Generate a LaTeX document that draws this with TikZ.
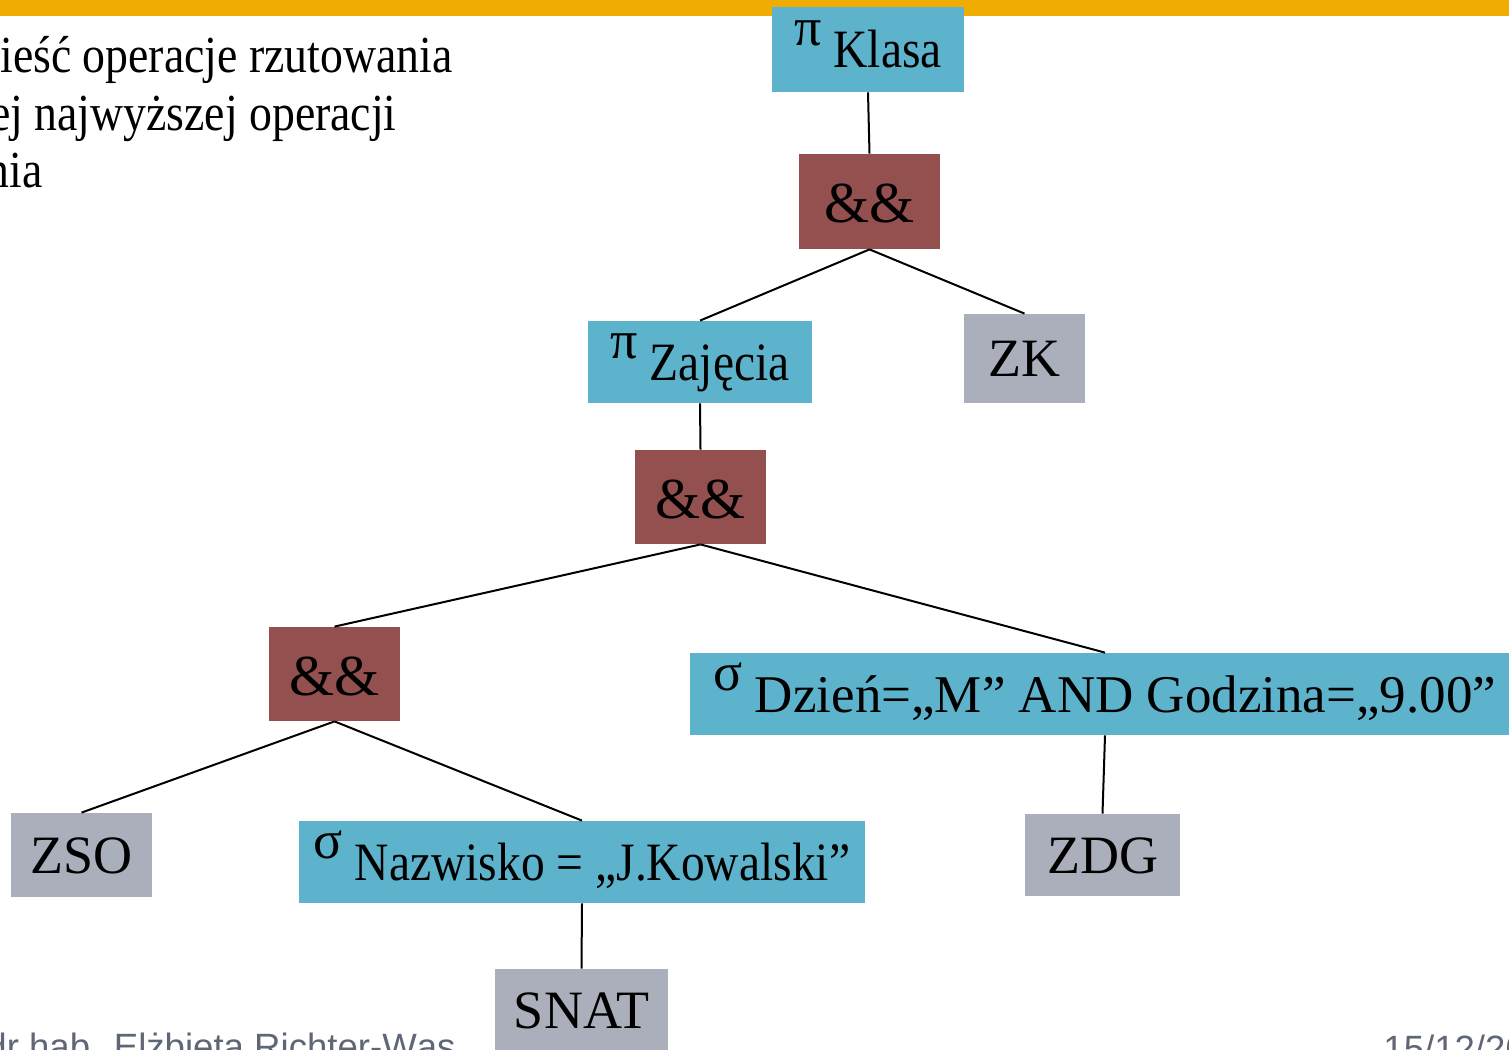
\documentclass[tikz,border=0pt]{standalone}
\usepackage{fontspec}
\setmainfont{Liberation Serif}
\newfontfamily\gar[FakeStretch=0.88]{Liberation Serif}
\newfontfamily\footfont{Liberation Sans}
\definecolor{barorange}{HTML}{F0AC00}
\definecolor{opteal}{HTML}{5EB3CC}
\definecolor{opmaroon}{HTML}{944F4F}
\definecolor{relgray}{HTML}{ABAFBB}
\definecolor{footgray}{HTML}{5F6675}
\newcommand{\grk}[1]{\raisebox{11pt}{\fontsize{27}{27}\selectfont #1}\hspace{6pt}}
\tikzset{
  box/.style={rectangle, inner sep=0pt, text height=18pt, text depth=0pt, align=center},
  projbox/.style={box, fill=opteal},
  joinbox/.style={box, fill=opmaroon, text height=21pt, font=\fontsize{29}{32}\selectfont},
  relbox/.style={box, fill=relgray, font=\fontsize{27}{30}\selectfont},
  edge/.style={draw=black, line width=1pt},
  slidetext/.style={anchor=base east, inner sep=0pt, font=\gar\fontsize{26}{30}\selectfont},
  foottext/.style={inner sep=0pt, text=footgray, font=\footfont\fontsize{18.3}{20}\selectfont}
}
\begin{document}
\begin{tikzpicture}[x=0.5pt, y=-0.5pt]
\clip (0,0) rectangle (1509,1049);
\fill[barorange] (0,0) rectangle (1509,16);

% slide text fragments
\node[slidetext] (t1) at (453,72) {ieść operacje rzutowania};
\node[slidetext] (t2) at (397,130) {ej najwyższej operacji};
\node[slidetext] (t3) at (43,187) {nia};

% footer
\node[foottext, anchor=base east] (f1) at (456,1059) {dr hab. Elżbieta Richter-Wąs};
\node[foottext, anchor=base west] (f2) at (1383,1061) {15/12/20};

% nodes
\node[projbox, minimum width=96pt, minimum height=42.5pt] (klasa) at (868,49.5)
  {\grk{π}{\gar\fontsize{27}{30}\selectfont Klasa}};
\node[joinbox, minimum width=70.5pt, minimum height=47.5pt] (and1) at (869.5,201.5) {\&\&};
\node[projbox, minimum width=112pt, minimum height=41pt] (zaj) at (700,362)
  {\grk{π}{\gar\fontsize{27}{30}\selectfont Zajęcia}};
\node[relbox, minimum width=60.5pt, minimum height=44.5pt] (zk) at (1024.5,358.5) {ZK};
\node[joinbox, minimum width=65.5pt, minimum height=47pt] (and2) at (700.5,497) {\&\&};
\node[joinbox, minimum width=65.5pt, minimum height=47pt] (and3) at (334.5,674) {\&\&};
\node[projbox, minimum width=415pt, minimum height=41pt] (dzien) at (1105,694)
  {\grk{σ}{\fontsize{26.5}{30}\selectfont Dzień=„M” AND Godzina=„9.00”}};
\node[relbox, minimum width=70.5pt, minimum height=42pt] (zso) at (81.5,855) {ZSO};
\node[projbox, minimum width=283pt, minimum height=41pt] (nazw) at (582,862)
  {\grk{σ}{\gar\fontsize{27}{30}\selectfont Nazwisko = „J.Kowalski”}};
\node[relbox, minimum width=77.5pt, minimum height=41pt] (zdg) at (1102.5,855) {ZDG};
\node[relbox, minimum width=86.5pt, minimum height=41pt] (snat) at (581.5,1010) {SNAT};

% connectors
\draw[edge] (klasa.south) -- (and1.north);
\draw[edge] (and1.south) -- (zaj.north);
\draw[edge] (and1.south) -- (zk.north);
\draw[edge] (zaj.south) -- (and2.north);
\draw[edge] (and2.south) -- (and3.north);
\draw[edge] (and2.south) -- (dzien.north);
\draw[edge] (and3.south) -- (zso.north);
\draw[edge] (and3.south) -- (nazw.north);
\draw[edge] (dzien.south) -- (zdg.north);
\draw[edge] (nazw.south) -- (snat.north);
\end{tikzpicture}
\end{document}
